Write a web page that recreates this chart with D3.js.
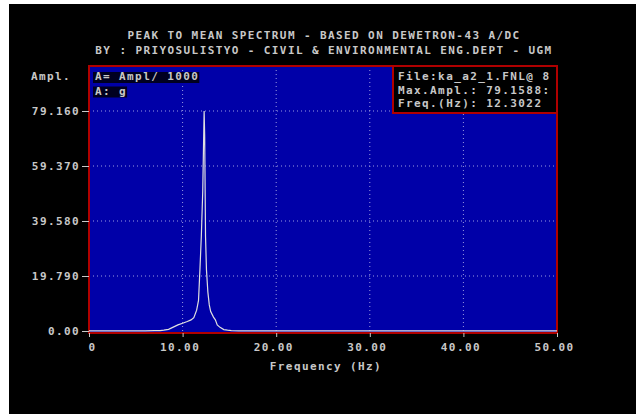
<!DOCTYPE html>
<html>
<head>
<meta charset="utf-8">
<script src="https://cdn.jsdelivr.net/npm/d3@7"></script>
<style>
  body { margin: 0; background: #fff; }
  text { font-family: "DejaVu Sans Mono", monospace; font-weight: bold; font-size: 11px; letter-spacing: 1.4px; fill: #c8c8c8; }
</style>
</head>
<body>
<div id="chart-area"></div>
<script>
// spectrum (Hz, amplitude)
let freq = [0, 2, 4, 6, 7, 7.6, 8.0, 8.5, 9.0, 9.5, 10.0, 10.5, 10.9, 11.2, 11.5, 11.7, 11.85, 12.0, 12.15, 12.3,
    12.36, 12.45, 12.55, 12.7, 12.85, 13.0, 13.3, 13.5, 13.7, 14.0, 14.4, 14.8, 15.2, 16.0, 18, 20, 25, 30, 35, 40, 45, 50];
let amp = [0.05, 0.05, 0.05, 0.08, 0.1, 0.15, 0.3, 0.6, 1.4, 2.2, 2.8, 3.4, 4.0, 4.8, 7.5, 11, 22, 34, 50, 79.16,
    70, 34, 22, 14, 9.4, 7, 5, 4, 2.2, 1.3, 0.5, 0.3, 0.15, 0.05, 0.05, 0.05, 0.05, 0.05, 0.05, 0.05, 0.05, 0.05];

let xTicks = [0, 10, 20, 30, 40, 50];
let xTickLabels = ["0", "10.00", "20.00", "30.00", "40.00", "50.00"];
let yTicks = [0, 19.79, 39.58, 59.37, 79.16];
let yTickLabels = ["0.00", "19.790", "39.580", "59.370", "79.160"];

let titleLines = ["PEAK TO MEAN SPECTRUM - BASED ON DEWETRON-43 A/DC",
    "BY : PRIYOSULISTYO - CIVIL & ENVIRONMENTAL ENG.DEPT - UGM"];
let infoLines = ["File:ka_a2_1.FNL@ 8", "Max.Ampl.: 79.1588:", "Freq.(Hz): 12.3022"];
let legendLines = ["A= Ampl/ 1000", "A: g"];

let svg = d3.select("#chart-area")
    .append("svg")
    .attr("width", 636)
    .attr("height", 414);

svg.append("rect")
    .attr("x", 9).attr("y", 4)
    .attr("width", 627).attr("height", 410)
    .attr("fill", "#000");

let pLeft = 89, pRight = 557, pTop = 66, pBottom = 333;

let x = d3.scaleLinear().domain([0, 50]).range([pLeft, pRight]);
let y = d3.scaleLinear().domain([0, 79.16]).range([331, 111]);

// titles
svg.selectAll(".title").data(titleLines).enter().append("text")
    .attr("x", 324)
    .attr("y", (d, i) => 39 + i * 14.5)
    .attr("text-anchor", "middle")
    .text(d => d);

// plot background
svg.append("rect")
    .attr("x", pLeft).attr("y", pTop)
    .attr("width", pRight - pLeft).attr("height", pBottom - pTop)
    .attr("fill", "#0000a8");

// grid
svg.selectAll(".vgrid").data(xTicks.slice(1, -1)).enter().append("line")
    .attr("x1", d => x(d)).attr("x2", d => x(d))
    .attr("y1", pTop).attr("y2", pBottom)
    .attr("stroke", "#9a9ae0").attr("stroke-dasharray", "1,3");

svg.selectAll(".hgrid").data(yTicks.slice(1)).enter().append("line")
    .attr("x1", pLeft).attr("x2", pRight)
    .attr("y1", d => y(d)).attr("y2", d => y(d))
    .attr("stroke", "#9a9ae0").attr("stroke-dasharray", "1,3");

// border
svg.append("rect")
    .attr("x", pLeft).attr("y", pTop)
    .attr("width", pRight - pLeft).attr("height", pBottom - pTop)
    .attr("fill", "none")
    .attr("stroke", "#b00000")
    .attr("stroke-width", 2);

// spectrum
let line = d3.line()
    .x((d, i) => x(freq[i]))
    .y(d => y(d));

svg.append("path")
    .datum(amp)
    .attr("d", line)
    .attr("fill", "none")
    .attr("stroke", "#e0e0e0")
    .attr("stroke-width", 1.2);

// axes
let xAxis = d3.axisBottom(x)
    .tickValues(xTicks)
    .tickSize(4)
    .tickFormat((d, i) => xTickLabels[i]);

let gx = svg.append("g")
    .attr("transform", "translate(0," + pBottom + ")")
    .call(xAxis);
gx.select(".domain").remove();
gx.attr("font-family", null).attr("font-size", null);
gx.selectAll(".tick line").attr("stroke", "#c8c8c8");
gx.selectAll(".tick text")
    .attr("y", 10)
    .attr("dx", (d, i) => i === 0 ? 3 : -3)
    .attr("fill", null);

let yAxis = d3.axisLeft(y)
    .tickValues(yTicks)
    .tickSize(7)
    .tickFormat((d, i) => yTickLabels[i]);

let gy = svg.append("g")
    .attr("transform", "translate(" + pLeft + ",0)")
    .call(yAxis);
gy.select(".domain").remove();
gy.attr("font-family", null).attr("font-size", null);
gy.selectAll(".tick line").attr("stroke", "#c8c8c8");
gy.selectAll(".tick text")
    .attr("x", -9)
    .attr("fill", null);

svg.append("text")
    .attr("x", 71).attr("y", 80)
    .attr("text-anchor", "end")
    .text("Ampl.");

svg.append("text")
    .attr("x", 326).attr("y", 370)
    .attr("text-anchor", "middle")
    .text("Frequency (Hz)");

// legend
legendLines.forEach(function (d, i) {
    let bg = svg.append("rect")
        .attr("x", 93).attr("y", 72 + i * 14.5)
        .attr("height", 11)
        .attr("fill", "#000020");
    let t = svg.append("text")
        .attr("x", 95).attr("y", 80 + i * 14.5)
        .text(d);
    bg.attr("width", t.node().getComputedTextLength() + 2);
});

// info box
svg.append("rect")
    .attr("x", 393).attr("y", pTop)
    .attr("width", pRight - 393).attr("height", 47)
    .attr("fill", "#000")
    .attr("stroke", "#b00000")
    .attr("stroke-width", 2);

svg.selectAll(".info").data(infoLines).enter().append("text")
    .attr("x", 398)
    .attr("y", (d, i) => 80 + i * 13.7)
    .text(d => d);
</script>
</body>
</html>
